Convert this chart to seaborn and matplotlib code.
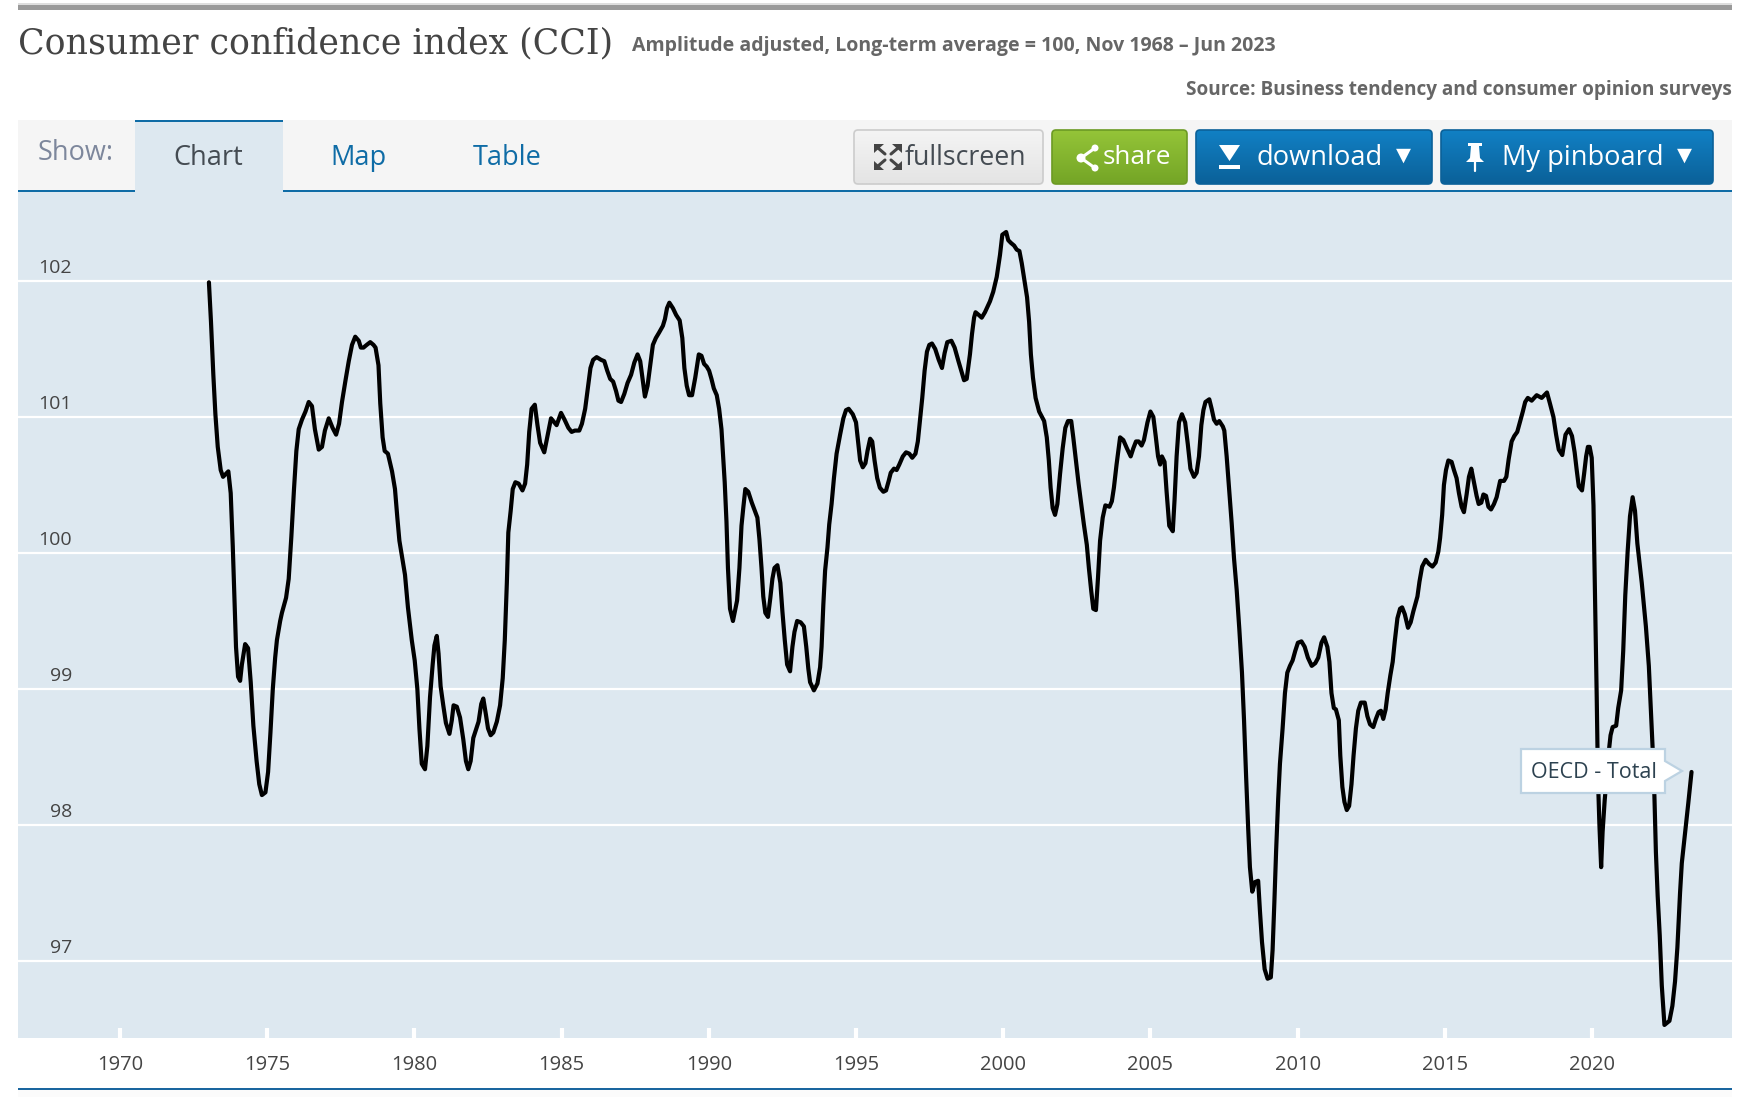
import matplotlib
matplotlib.use('Agg')
import matplotlib.pyplot as plt
from matplotlib.patches import FancyBboxPatch, Polygon, Rectangle, Circle
import numpy as np
import pandas as pd
import seaborn as sns

# values, OECD total
years = [
    1973.02, 1973.09, 1973.17, 1973.24, 1973.32, 1973.42, 1973.50, 1973.68, 1973.76, 1973.83,
    1973.90, 1973.94, 1974.01, 1974.08, 1974.14, 1974.25, 1974.35, 1974.44, 1974.53, 1974.64,
    1974.73, 1974.82, 1974.94, 1975.03, 1975.11, 1975.19, 1975.27, 1975.33, 1975.44, 1975.50,
    1975.64, 1975.73, 1975.82, 1975.91, 1975.99, 1976.07, 1976.18, 1976.30, 1976.41, 1976.52,
    1976.62, 1976.75, 1976.86, 1976.96, 1977.09, 1977.22, 1977.34, 1977.44, 1977.54, 1977.66,
    1977.77, 1977.88, 1977.99, 1978.11, 1978.18, 1978.27, 1978.38, 1978.50, 1978.61, 1978.68,
    1978.78, 1978.84, 1978.92, 1978.99, 1979.10, 1979.24, 1979.34, 1979.42, 1979.49, 1979.58,
    1979.68, 1979.78, 1979.91, 1980.01, 1980.10, 1980.17, 1980.25, 1980.36, 1980.44, 1980.53,
    1980.62, 1980.68, 1980.76, 1980.82, 1980.89, 1980.98, 1981.07, 1981.19, 1981.27, 1981.33,
    1981.44, 1981.55, 1981.66, 1981.75, 1981.83, 1981.91, 1982.00, 1982.09, 1982.18, 1982.27,
    1982.34, 1982.43, 1982.50, 1982.59, 1982.68, 1982.80, 1982.91, 1983.00, 1983.07, 1983.14,
    1983.19, 1983.27, 1983.34, 1983.43, 1983.54, 1983.67, 1983.76, 1983.83, 1983.90, 1983.98,
    1984.09, 1984.18, 1984.27, 1984.41, 1984.52, 1984.64, 1984.83, 1984.98, 1985.10, 1985.23,
    1985.34, 1985.45, 1985.60, 1985.69, 1985.80, 1985.89, 1985.98, 1986.07, 1986.19, 1986.34,
    1986.45, 1986.55, 1986.65, 1986.75, 1986.85, 1986.93, 1987.02, 1987.13, 1987.24, 1987.36,
    1987.47, 1987.58, 1987.67, 1987.75, 1987.83, 1987.92, 1988.01, 1988.10, 1988.20, 1988.31,
    1988.44, 1988.51, 1988.58, 1988.66, 1988.78, 1988.89, 1989.01, 1989.10, 1989.17, 1989.25,
    1989.33, 1989.43, 1989.54, 1989.66, 1989.75, 1989.84, 1989.93, 1990.01, 1990.09, 1990.17,
    1990.27, 1990.35, 1990.43, 1990.48, 1990.54, 1990.60, 1990.65, 1990.72, 1990.82, 1990.96,
    1991.04, 1991.11, 1991.17, 1991.24, 1991.34, 1991.46, 1991.65, 1991.72, 1991.79, 1991.85,
    1991.92, 1992.01, 1992.09, 1992.16, 1992.23, 1992.33, 1992.43, 1992.50, 1992.58, 1992.66,
    1992.76, 1992.84, 1992.91, 1993.00, 1993.12, 1993.23, 1993.31, 1993.38, 1993.44, 1993.57,
    1993.69, 1993.78, 1993.83, 1993.89, 1993.95, 1994.03, 1994.09, 1994.17, 1994.25, 1994.34,
    1994.46, 1994.57, 1994.66, 1994.75, 1994.89, 1995.00, 1995.08, 1995.14, 1995.23, 1995.32,
    1995.39, 1995.48, 1995.55, 1995.63, 1995.72, 1995.81, 1995.93, 1996.02, 1996.11, 1996.18,
    1996.29, 1996.38, 1996.47, 1996.59, 1996.70, 1996.81, 1996.91, 1997.02, 1997.10, 1997.17,
    1997.25, 1997.33, 1997.41, 1997.49, 1997.58, 1997.69, 1997.81, 1997.92, 1998.01, 1998.10,
    1998.24, 1998.35, 1998.48, 1998.67, 1998.76, 1998.87, 1998.94, 1999.01, 1999.06, 1999.17,
    1999.27, 1999.38, 1999.55, 1999.66, 1999.78, 1999.89, 1999.97, 2000.10, 2000.17, 2000.26,
    2000.37, 2000.46, 2000.55, 2000.63, 2000.71, 2000.81, 2000.88, 2000.94, 2001.01, 2001.10,
    2001.22, 2001.39, 2001.48, 2001.55, 2001.61, 2001.68, 2001.76, 2001.84, 2001.93, 2002.02,
    2002.11, 2002.20, 2002.31, 2002.38, 2002.47, 2002.56, 2002.67, 2002.74, 2002.84, 2002.91,
    2002.99, 2003.06, 2003.15, 2003.22, 2003.29, 2003.38, 2003.47, 2003.61, 2003.69, 2003.76,
    2003.85, 2003.97, 2004.08, 2004.20, 2004.33, 2004.42, 2004.51, 2004.60, 2004.70, 2004.78,
    2004.90, 2005.00, 2005.10, 2005.18, 2005.26, 2005.33, 2005.39, 2005.48, 2005.55, 2005.64,
    2005.76, 2005.82, 2005.89, 2005.97, 2006.07, 2006.18, 2006.27, 2006.36, 2006.48, 2006.57,
    2006.65, 2006.73, 2006.80, 2006.87, 2007.00, 2007.08, 2007.16, 2007.25, 2007.34, 2007.46,
    2007.51, 2007.59, 2007.67, 2007.76, 2007.84, 2007.93, 2008.02, 2008.11, 2008.18, 2008.25,
    2008.32, 2008.38, 2008.46, 2008.55, 2008.66, 2008.72, 2008.79, 2008.88, 2008.98, 2009.09,
    2009.15, 2009.21, 2009.27, 2009.34, 2009.40, 2009.49, 2009.57, 2009.65, 2009.74, 2009.83,
    2009.92, 2010.01, 2010.13, 2010.24, 2010.35, 2010.48, 2010.60, 2010.70, 2010.81, 2010.90,
    2011.01, 2011.08, 2011.15, 2011.23, 2011.30, 2011.40, 2011.45, 2011.52, 2011.59, 2011.67,
    2011.75, 2011.83, 2011.90, 2011.98, 2012.06, 2012.15, 2012.28, 2012.37, 2012.46, 2012.57,
    2012.66, 2012.75, 2012.83, 2012.91, 2012.99, 2013.06, 2013.15, 2013.23, 2013.30, 2013.39,
    2013.48, 2013.55, 2013.64, 2013.75, 2013.84, 2013.93, 2014.07, 2014.14, 2014.23, 2014.35,
    2014.46, 2014.58, 2014.69, 2014.78, 2014.84, 2014.91, 2014.97, 2015.04, 2015.12, 2015.23,
    2015.31, 2015.40, 2015.48, 2015.57, 2015.65, 2015.74, 2015.82, 2015.90, 2015.99, 2016.08,
    2016.15, 2016.24, 2016.31, 2016.40, 2016.48, 2016.57, 2016.67, 2016.76, 2016.88, 2017.01,
    2017.09, 2017.17, 2017.27, 2017.36, 2017.46, 2017.55, 2017.65, 2017.73, 2017.82, 2017.95,
    2018.12, 2018.29, 2018.47, 2018.57, 2018.69, 2018.78, 2018.87, 2018.99, 2019.10, 2019.22,
    2019.32, 2019.41, 2019.48, 2019.55, 2019.66, 2019.73, 2019.80, 2019.86, 2019.92, 2019.99,
    2020.05, 2020.10, 2020.16, 2020.20, 2020.25, 2020.31, 2020.36, 2020.43, 2020.50, 2020.58,
    2020.63, 2020.70, 2020.82, 2020.89, 2020.99, 2021.06, 2021.13, 2021.21, 2021.29, 2021.38,
    2021.46, 2021.54, 2021.69, 2021.83, 2021.93, 2022.00, 2022.06, 2022.12, 2022.17, 2022.23,
    2022.30, 2022.37, 2022.46, 2022.63, 2022.73, 2022.82, 2022.90, 2022.99, 2023.05, 2023.16,
    2023.27, 2023.38,
]
cci = [
    101.99, 101.70, 101.31, 101.02, 100.78, 100.61, 100.56, 100.60, 100.44, 100.05,
    99.57, 99.31, 99.09, 99.06, 99.18, 99.33, 99.30, 99.05, 98.73, 98.47,
    98.30, 98.22, 98.24, 98.39, 98.68, 99.00, 99.23, 99.36, 99.50, 99.56,
    99.67, 99.81, 100.12, 100.47, 100.75, 100.91, 100.98, 101.04, 101.11, 101.08,
    100.91, 100.76, 100.78, 100.90, 100.99, 100.92, 100.87, 100.95, 101.11, 101.27,
    101.41, 101.53, 101.59, 101.56, 101.51, 101.51, 101.53, 101.55, 101.53, 101.51,
    101.38, 101.10, 100.85, 100.75, 100.73, 100.60, 100.47, 100.26, 100.09, 99.97,
    99.84, 99.60, 99.36, 99.21, 99.00, 98.71, 98.45, 98.41, 98.58, 98.94,
    99.18, 99.32, 99.39, 99.26, 99.02, 98.88, 98.75, 98.67, 98.77, 98.88,
    98.87, 98.79, 98.63, 98.47, 98.41, 98.47, 98.64, 98.70, 98.76, 98.89,
    98.93, 98.81, 98.71, 98.66, 98.68, 98.76, 98.88, 99.08, 99.36, 99.78,
    100.15, 100.31, 100.47, 100.52, 100.51, 100.46, 100.51, 100.65, 100.89, 101.06,
    101.09, 100.94, 100.81, 100.74, 100.86, 100.99, 100.94, 101.03, 100.98, 100.92,
    100.89, 100.90, 100.90, 100.95, 101.06, 101.21, 101.36, 101.42, 101.44, 101.42,
    101.41, 101.34, 101.28, 101.26, 101.19, 101.12, 101.11, 101.17, 101.25, 101.31,
    101.40, 101.46, 101.41, 101.28, 101.15, 101.23, 101.38, 101.53, 101.58, 101.62,
    101.67, 101.72, 101.80, 101.84, 101.80, 101.75, 101.71, 101.58, 101.36, 101.23,
    101.16, 101.16, 101.29, 101.46, 101.45, 101.39, 101.37, 101.34, 101.28, 101.21,
    101.16, 101.06, 100.91, 100.73, 100.52, 100.23, 99.89, 99.59, 99.50, 99.65,
    99.89, 100.20, 100.33, 100.47, 100.45, 100.37, 100.26, 100.10, 99.89, 99.68,
    99.56, 99.53, 99.67, 99.81, 99.89, 99.91, 99.78, 99.57, 99.36, 99.18,
    99.13, 99.31, 99.42, 99.50, 99.49, 99.46, 99.31, 99.15, 99.05, 98.99,
    99.04, 99.16, 99.31, 99.62, 99.87, 100.04, 100.21, 100.36, 100.55, 100.73,
    100.87, 100.99, 101.05, 101.06, 101.02, 100.96, 100.80, 100.68, 100.63, 100.66,
    100.75, 100.84, 100.82, 100.68, 100.55, 100.48, 100.45, 100.46, 100.53, 100.59,
    100.62, 100.61, 100.65, 100.71, 100.74, 100.73, 100.70, 100.73, 100.82, 100.97,
    101.14, 101.34, 101.48, 101.53, 101.54, 101.50, 101.42, 101.36, 101.47, 101.55,
    101.56, 101.51, 101.41, 101.27, 101.28, 101.46, 101.61, 101.73, 101.77, 101.75,
    101.73, 101.77, 101.85, 101.92, 102.03, 102.19, 102.34, 102.36, 102.30, 102.28,
    102.26, 102.23, 102.22, 102.13, 102.02, 101.88, 101.70, 101.46, 101.29, 101.14,
    101.04, 100.97, 100.85, 100.68, 100.48, 100.33, 100.28, 100.36, 100.58, 100.77,
    100.92, 100.97, 100.97, 100.85, 100.68, 100.51, 100.33, 100.21, 100.06, 99.89,
    99.72, 99.59, 99.58, 99.82, 100.09, 100.26, 100.35, 100.34, 100.38, 100.48,
    100.65, 100.85, 100.83, 100.77, 100.71, 100.77, 100.82, 100.82, 100.79, 100.83,
    100.96, 101.04, 101.00, 100.86, 100.71, 100.65, 100.71, 100.67, 100.45, 100.20,
    100.16, 100.39, 100.71, 100.96, 101.02, 100.96, 100.80, 100.62, 100.56, 100.59,
    100.71, 100.94, 101.05, 101.11, 101.13, 101.06, 100.98, 100.95, 100.97, 100.93,
    100.90, 100.71, 100.48, 100.22, 99.96, 99.73, 99.44, 99.12, 98.77, 98.36,
    97.98, 97.69, 97.51, 97.58, 97.59, 97.37, 97.14, 96.94, 96.87, 96.88,
    97.08, 97.43, 97.81, 98.19, 98.45, 98.71, 98.97, 99.12, 99.17, 99.21,
    99.28, 99.34, 99.35, 99.31, 99.23, 99.17, 99.19, 99.23, 99.34, 99.38,
    99.31, 99.20, 98.97, 98.86, 98.85, 98.77, 98.51, 98.28, 98.17, 98.11,
    98.14, 98.30, 98.51, 98.71, 98.84, 98.90, 98.90, 98.80, 98.74, 98.72,
    98.78, 98.83, 98.84, 98.78, 98.85, 98.97, 99.10, 99.20, 99.35, 99.52,
    99.59, 99.60, 99.55, 99.45, 99.49, 99.57, 99.68, 99.79, 99.90, 99.95,
    99.92, 99.90, 99.93, 100.01, 100.11, 100.28, 100.50, 100.61, 100.68, 100.67,
    100.61, 100.55, 100.44, 100.34, 100.30, 100.43, 100.56, 100.62, 100.52, 100.42,
    100.36, 100.37, 100.43, 100.42, 100.34, 100.32, 100.36, 100.41, 100.53, 100.53,
    100.56, 100.69, 100.82, 100.86, 100.89, 100.96, 101.04, 101.11, 101.14, 101.12,
    101.16, 101.14, 101.18, 101.10, 101.00, 100.87, 100.76, 100.72, 100.87, 100.91,
    100.86, 100.74, 100.61, 100.49, 100.46, 100.58, 100.71, 100.78, 100.78, 100.70,
    100.35, 99.72, 98.94, 98.36, 98.01, 97.69, 97.95, 98.18, 98.36, 98.56,
    98.66, 98.72, 98.73, 98.86, 98.99, 99.28, 99.69, 100.01, 100.27, 100.41,
    100.31, 100.07, 99.78, 99.46, 99.17, 98.85, 98.56, 98.21, 97.80, 97.48,
    97.19, 96.82, 96.53, 96.56, 96.67, 96.85, 97.10, 97.50, 97.72, 97.94,
    98.16, 98.39,
]
x_ticks = [1970, 1975, 1980, 1985, 1990, 1995, 2000, 2005, 2010, 2015, 2020]
y_ticks = [97, 98, 99, 100, 101, 102]

title = 'Consumer confidence index (CCI)'
subtitle = 'Amplitude adjusted, Long-term average = 100, Nov 1968 – Jun 2023'
source = 'Source: Business tendency and consumer opinion surveys'
series_name = 'OECD - Total'

W, H = 1750, 1100
BLUE = '#0f6ca6'
PANEL = '#dde8f0'

sns.set_theme(style='white')
plt.rcParams['font.family'] = ['Open Sans', 'DejaVu Sans']

fig = plt.figure(figsize=(W / 100, H / 100), dpi=100, facecolor='white')

# main chart
ax = fig.add_axes([18 / W, (H - 1038) / H, 1714 / W, 846 / H], facecolor=PANEL)
df = pd.DataFrame({'year': years, 'cci': cci})
sns.lineplot(data=df, x='year', y='cci', ax=ax, color='black', linewidth=3,
             estimator=None, sort=False, solid_joinstyle='round')
ax.set_xlim(1966.535, 2024.755)
ax.set_ylim(96.434, 102.654)
ax.set_xlabel('')
ax.set_ylabel('')
ax.set_xticks(x_ticks)
ax.set_yticks(y_ticks)
ax.grid(axis='y', color='white', linewidth=1.6)
ax.set_axisbelow(True)
sns.despine(ax=ax, left=True, bottom=True)
ax.tick_params(axis='x', bottom=True, direction='in', length=7, width=3, color='white',
               pad=12, labelsize=14.5, labelcolor='#444444')
ax.tick_params(axis='y', left=False, labelleft=False)
# the y labels sit inside the panel, just above their gridline
for t in y_ticks:
    ax.annotate(str(t), xy=(0, t), xycoords=('axes fraction', 'data'), xytext=(39, 3),
                textcoords='offset points', ha='right', va='bottom',
                fontsize=14, color='#444444')

# page chrome, in pixels
ui = fig.add_axes([0, 0, 1, 1], facecolor='none')
ui.set_xlim(0, W)
ui.set_ylim(H, 0)
ui.axis('off')


def rect(x0, y0, x1, y1, color):
    ui.add_patch(Rectangle((x0, y0), x1 - x0, y1 - y0, facecolor=color, edgecolor='none'))


def button(x0, y0, x1, y1, top, bottom, edge):
    box = FancyBboxPatch((x0, y0), x1 - x0, y1 - y0, boxstyle='round,pad=0,rounding_size=4',
                         facecolor='none', edgecolor=edge, linewidth=1.2, zorder=3)
    ui.add_patch(box)
    cmap = matplotlib.colors.LinearSegmentedColormap.from_list('b', [top, bottom])
    im = ui.imshow(np.linspace(0, 1, 40)[:, None], extent=(x0, x1, y1, y0), cmap=cmap,
                   aspect='auto', zorder=2)
    im.set_clip_path(box)


rect(18, 5, 1732, 10, '#9a9a9a')
rect(18, 3, 1732, 5, '#dedede')
rect(18, 120, 1732, 190, '#f5f5f5')
rect(135, 120, 283, 192, PANEL)
rect(135, 120, 283, 122, BLUE)
rect(18, 190, 135, 192, BLUE)
rect(283, 190, 1732, 192, BLUE)
rect(18, 1088, 1732, 1090, '#1a669f')
rect(18, 1090, 1732, 1097, '#fbfbfb')

ui.text(18, 43, title, family='DejaVu Serif', fontsize=25, color='#444444', va='center')
ui.text(632, 46, subtitle, family='Open Sans', fontweight='bold', fontsize=14,
        color='#666666', va='center')
ui.text(1732, 90, source, family='Open Sans', fontweight='bold', fontsize=13.7,
        color='#666666', va='center', ha='right')

ui.text(38, 153, 'Show:', fontsize=19.5, color='#7d879c', va='center')
ui.text(208, 158, 'Chart', fontsize=19.5, color='#444b52', va='center', ha='center')
ui.text(358, 158, 'Map', fontsize=19.5, color=BLUE, va='center', ha='center')
ui.text(507, 158, 'Table', fontsize=19.5, color=BLUE, va='center', ha='center')

button(854, 130, 1043, 184, '#f4f4f4', '#e4e4e4', '#cccccc')
button(1052, 130, 1187, 184, '#94c438', '#74a526', '#6c9a24')
button(1196, 130, 1432, 184, '#1180c4', '#0b6199', '#0b6199')
button(1441, 130, 1713, 184, '#1180c4', '#0b6199', '#0b6199')

ui.text(905, 158, 'fullscreen', fontsize=19.2, color='#444b52', va='center', zorder=5)
ui.text(1103, 158, 'share', fontsize=18.8, color='white', va='center', zorder=5)
ui.text(1257, 158, 'download', fontsize=19.6, color='white', va='center', zorder=5)
ui.text(1502, 158, 'My pinboard', fontsize=19.6, color='white', va='center', zorder=5)
ui.text(1403, 155, '▼', family='DejaVu Sans', fontsize=14, color='white', va='center', ha='center', zorder=5)
ui.text(1684, 155, '▼', family='DejaVu Sans', fontsize=14, color='white', va='center', ha='center', zorder=5)

# fullscreen icon: four corner arrows
for sx, sy in [(-1, -1), (1, -1), (-1, 1), (1, 1)]:
    cx, cy = 888, 157
    ui.add_patch(Polygon([(cx + sx * 14, cy + sy * 13), (cx + sx * 4, cy + sy * 13), (cx + sx * 14, cy + sy * 4)],
                         facecolor='#444444', edgecolor='none', zorder=5))
    ui.plot([cx + sx * 3, cx + sx * 10], [cy + sy * 3, cy + sy * 9], color='#444444', lw=2.2, zorder=5)

# share icon
ui.plot([1095, 1081, 1095], [148, 158, 168], color='white', lw=2.2, zorder=5)
for px, py, r in [(1095, 148, 3.5), (1081, 158, 4.5), (1095, 168, 3.5)]:
    ui.add_patch(Circle((px, py), r, facecolor='white', edgecolor='none', zorder=5))

# download icon
ui.add_patch(Polygon([(1219, 145), (1240, 145), (1229.5, 161)], facecolor='white', edgecolor='none', zorder=5))
rect_dl = Rectangle((1219, 165), 21, 4, facecolor='white', edgecolor='none', zorder=5)
ui.add_patch(rect_dl)

# pin icon
ui.add_patch(Rectangle((1468, 143), 14, 3, facecolor='white', edgecolor='none', zorder=5))
ui.add_patch(Polygon([(1471, 146), (1479, 146), (1480, 158), (1484, 162), (1466, 162), (1470, 158)],
                     facecolor='white', edgecolor='none', zorder=5))
ui.plot([1475, 1475], [162, 171], color='white', lw=1.6, zorder=5)

# tooltip next to the last point
ui.add_patch(Polygon([(1521, 749), (1665, 749), (1665, 761), (1682, 771), (1665, 781), (1665, 793), (1521, 793)],
                     facecolor='white', edgecolor='#bcd2e2', linewidth=1.6, zorder=6))
ui.text(1531, 773, series_name, fontsize=15.5, color='#2d4250', va='center', zorder=7)

fig.savefig('out.png', dpi=100)
